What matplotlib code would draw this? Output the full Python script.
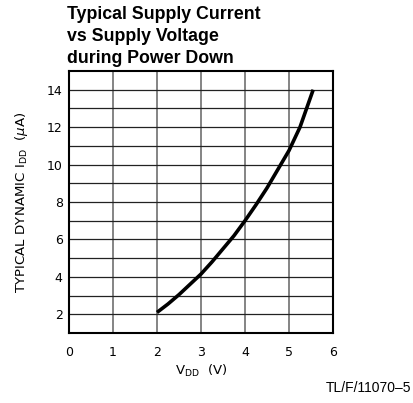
import matplotlib
matplotlib.use("Agg")
import matplotlib.pyplot as plt

vdd = [2.0, 2.25, 2.5, 2.75, 3.0, 3.25, 3.5, 3.75, 4.0, 4.25, 4.5, 4.8, 5.0, 5.25, 5.55]
idd = [2.1, 2.55, 3.05, 3.6, 4.15, 4.8, 5.5, 6.2, 7.0, 7.85, 8.75, 9.95, 10.75, 12.0, 14.0]
xticks = [0, 1, 2, 3, 4, 5, 6]
yticks = [2, 4, 6, 8, 10, 12, 14]

tick_font = 'DejaVu Sans'
fig = plt.figure(figsize=(4.14, 4.03), dpi=100)
ax = fig.add_axes([69/414, 1-333/403, (333-69)/414, (333-71)/403])
ax.set_xlim(0, 6)
ax.set_ylim(1, 15)
for v in range(1, 6):
    ax.axvline(v, color='#707070', lw=1.2, zorder=1)
for v in range(2, 15):
    ax.axhline(v, color='#222222', lw=0.9, zorder=1)
ax.plot(vdd, idd, color='black', lw=2.6, solid_capstyle='butt', zorder=3)
for s in ax.spines.values():
    s.set_linewidth(1.5)
ax.set_xticks(xticks)
ax.set_yticks(yticks)
ax.tick_params(axis='x', length=0, pad=9.5, labelsize=9)
ax.tick_params(axis='y', length=0, pad=4.5, labelsize=9)
for lab in ax.get_xticklabels() + ax.get_yticklabels():
    lab.set_family(tick_font)
ax.set_xlabel('V$_{\\mathrm{DD}}$  (V)', family=tick_font, fontsize=9.5, labelpad=3)
ax.set_ylabel('TYPICAL DYNAMIC I$_{\\mathrm{DD}}$  ($\\mu$A)', family=tick_font, fontsize=9.6, labelpad=12)
fig.text(67/414, 1-6/403, 'Typical Supply Current\nvs Supply Voltage\nduring Power Down',
         ha='left', va='top', fontsize=12.8, fontweight='bold', family='Liberation Sans', linespacing=1.38)
fig.text(411/414, 1-388/403, 'TL/F/11070\u20135', ha='right', va='center', fontsize=10, family='Liberation Sans')
fig.savefig('out.png', dpi=100)
